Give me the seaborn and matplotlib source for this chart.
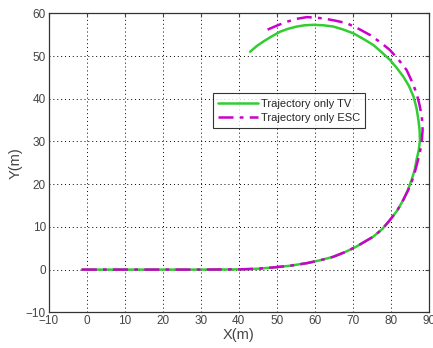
import matplotlib
matplotlib.use("Agg")
import matplotlib.pyplot as plt
import seaborn as sns
import pandas as pd

# Trajectory only TV (green)
tv_x = [-1.3, 10, 20, 30, 40.3, 45, 49.1, 53.5, 57.9, 61.5, 64.9, 68, 71, 75.4, 77.8, 79.8,
        81.7, 83.3, 84.5, 85.5, 86.3, 86.8, 87.4, 87.7, 87.6, 87.3, 86.8, 86, 84.8, 83.3,
        81.6, 79.8, 77.6, 75.4, 72.8, 70.2, 67.5, 64.9, 62.2, 59.6, 57.4, 55.3, 53.1, 50.9,
        48.7, 46.5, 44.7, 43.0]
tv_y = [0, 0, 0, 0, 0.05, 0.2, 0.5, 0.9, 1.5, 2.2, 3.0, 4.1, 5.4, 7.7, 9.5, 11.6,
        13.8, 16.3, 18.6, 21.0, 23.3, 25.7, 28, 30.3, 32.7, 35.0, 37.8, 40.5, 43, 45.2,
        47.2, 49.1, 50.9, 52.6, 54.0, 55.3, 56.2, 56.9, 57.2, 57.3, 57.2, 56.9, 56.4, 55.7,
        54.6, 53.4, 52.3, 51.0]

# Trajectory only ESC (magenta)
esc_x = [-1.3, 10, 20, 30, 40.3, 45, 49.1, 53.5, 57.9, 61.5, 64.9, 68, 71, 75.4, 77.8, 79.8,
         81.7, 83.3, 84.6, 85.7, 86.5, 87.2, 87.8, 88.2, 88.4, 88.2, 87.6, 86.8, 85.6, 84.2,
         82.1, 79.8, 77.3, 74.6, 71.5, 68.4, 65.3, 62.3, 60, 57.9, 55.2, 52.6, 50, 47.4]
esc_y = [0, 0, 0, 0, 0.05, 0.2, 0.5, 0.9, 1.5, 2.2, 3.0, 4.1, 5.4, 7.7, 9.5, 11.6,
         13.8, 16.3, 18.6, 21, 23.3, 25.7, 28, 30.3, 32.7, 35.8, 38.5, 41.3, 44, 46.7,
         49.1, 51.4, 53.2, 54.9, 56.4, 57.7, 58.3, 58.8, 59.0, 59.1, 58.7, 58.0, 57.1, 56.1]

x_ticks = list(range(-10, 91, 10))
y_ticks = list(range(-10, 61, 10))

sns.set_style("white")
plt.rcParams['font.family'] = ['Liberation Sans', 'DejaVu Sans']

fig = plt.figure(figsize=(4.33, 3.48), dpi=100)
ax = fig.add_axes([48.7 / 433, (348 - 312.3) / 348, 380 / 433, 299 / 348])

df_tv = pd.DataFrame({"x": tv_x, "y": tv_y})
df_esc = pd.DataFrame({"x": esc_x, "y": esc_y})

sns.lineplot(data=df_tv, x="x", y="y", sort=False, estimator=None, ax=ax, color="#33cc33",
             linewidth=1.8, label="Trajectory only TV")
sns.lineplot(data=df_esc, x="x", y="y", sort=False, estimator=None, ax=ax, color="#cc00cc",
             linewidth=1.8, linestyle=(0, (6, 2.5, 1.5, 2.5)), label="Trajectory only ESC")

ax.set_xlim(-10, 90)
ax.set_ylim(-10, 60)
ax.set_xticks(x_ticks)
ax.set_yticks(y_ticks)
ax.grid(True, linestyle=(0, (1, 3)), color="black", linewidth=0.7)
ax.tick_params(direction="in", length=3, labelsize=8.5, colors="#444444",
               top=True, right=True, pad=2)
for s in ax.spines.values():
    s.set_color("#333333")
    s.set_linewidth(0.9)
ax.set_xlabel("X(m)", fontsize=10.5, color="#444444", labelpad=1)
ax.set_ylabel("Y(m)", fontsize=10.5, color="#444444", labelpad=2)

leg = ax.legend(loc="upper left", bbox_to_anchor=(0.432, 0.733), fontsize=8,
                frameon=True, fancybox=False, borderpad=0.5, handlelength=3.6,
                handletextpad=0.2, borderaxespad=0, labelspacing=0.35)
leg.get_frame().set_edgecolor("black")
leg.get_frame().set_linewidth(0.8)

fig.savefig("out.png", dpi=100)
